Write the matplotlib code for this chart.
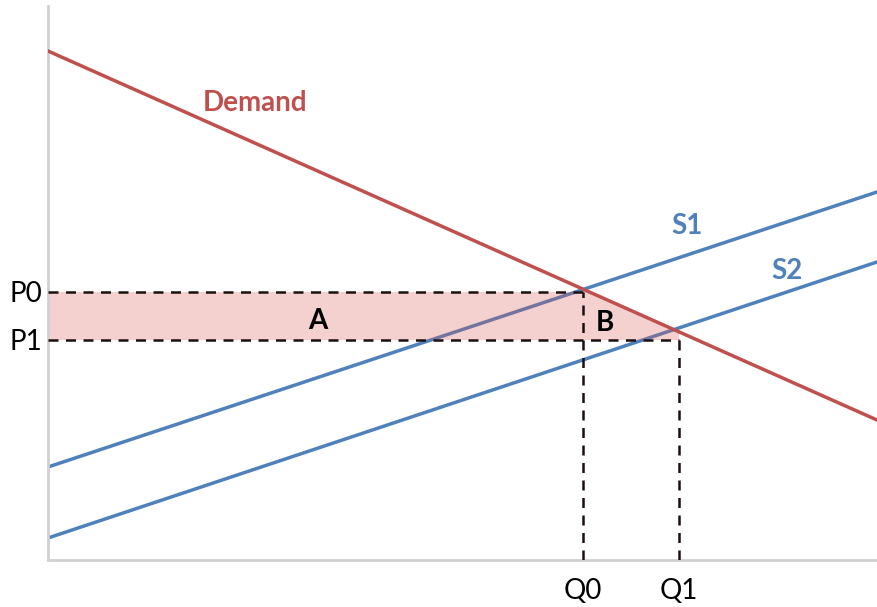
import numpy as np
import matplotlib.pyplot as plt

# line end points (quantity, price)
demand_x = [0, 829]
demand_y = [509, 140]
s1_x = [0, 829]
s1_y = [93, 368]
s2_x = [0, 829]
s2_y = [22, 298]

P0, P1 = 268, 220
Q0, Q1 = 535, 631

price_ticks = [P0, P1]
price_labels = ["P0", "P1"]
qty_ticks = [Q0, Q1]
qty_labels = ["Q0", "Q1"]

red = "#c0504d"
blue = "#4f81bd"

fig = plt.figure(figsize=(8.77, 6.07), dpi=100)
ax = fig.add_axes([48/877, 47/607, 829/877, 554/607])
ax.set_xlim(0, 829)
ax.set_ylim(0, 554)

def dem(q):
    return np.interp(q, demand_x, demand_y)

ax.plot(demand_x, demand_y, color=red, lw=2.5, zorder=3)
ax.plot(s1_x, s1_y, color=blue, lw=2.5, zorder=2)
ax.plot(s2_x, s2_y, color=blue, lw=2.5, zorder=2)

# shaded area A + B: under P0, above P1, bounded by demand on the right
qq = np.linspace(Q0, Q1, 20)
top = np.minimum(dem(qq), P0)
poly_x = np.concatenate([[0, 0], qq, [Q1]])
poly_y = np.concatenate([[P1, P0], top, [P1]])
ax.fill(poly_x, poly_y, color="#d9534f", alpha=0.27, lw=0, zorder=2.5)

dash = dict(color="#1a1010", lw=1.8, ls=(0, (4, 3)), zorder=4)
ax.plot([0, Q0], [P0, P0], **dash)
ax.plot([0, Q1], [P1, P1], **dash)
ax.plot([Q0, Q0], [0, P0], **dash)
ax.plot([Q1, Q1], [0, P1], **dash)

font = "Lato"
lab = dict(fontsize=20, fontweight="bold", ha="center", va="center", family=font)
ax.text(207, 457, "Demand", color=red, **lab)
ax.text(639, 334, "S1", color=blue, **lab)
ax.text(739, 289, "S2", color=blue, **lab)
ax.text(270, 239, "A", color="black", **lab)
ax.text(557, 237, "B", color="black", **lab)

ax.set_yticks(price_ticks, price_labels, fontsize=20, family=font)
ax.set_xticks(qty_ticks, qty_labels, fontsize=20, family=font)
ax.tick_params(length=0, pad=4)
ax.tick_params(axis="x", pad=13)

for s in ["top", "right"]:
    ax.spines[s].set_visible(False)
for s in ["left", "bottom"]:
    ax.spines[s].set_color("#d0d0d0")
    ax.spines[s].set_linewidth(2)

fig.savefig("out.png", dpi=100)
